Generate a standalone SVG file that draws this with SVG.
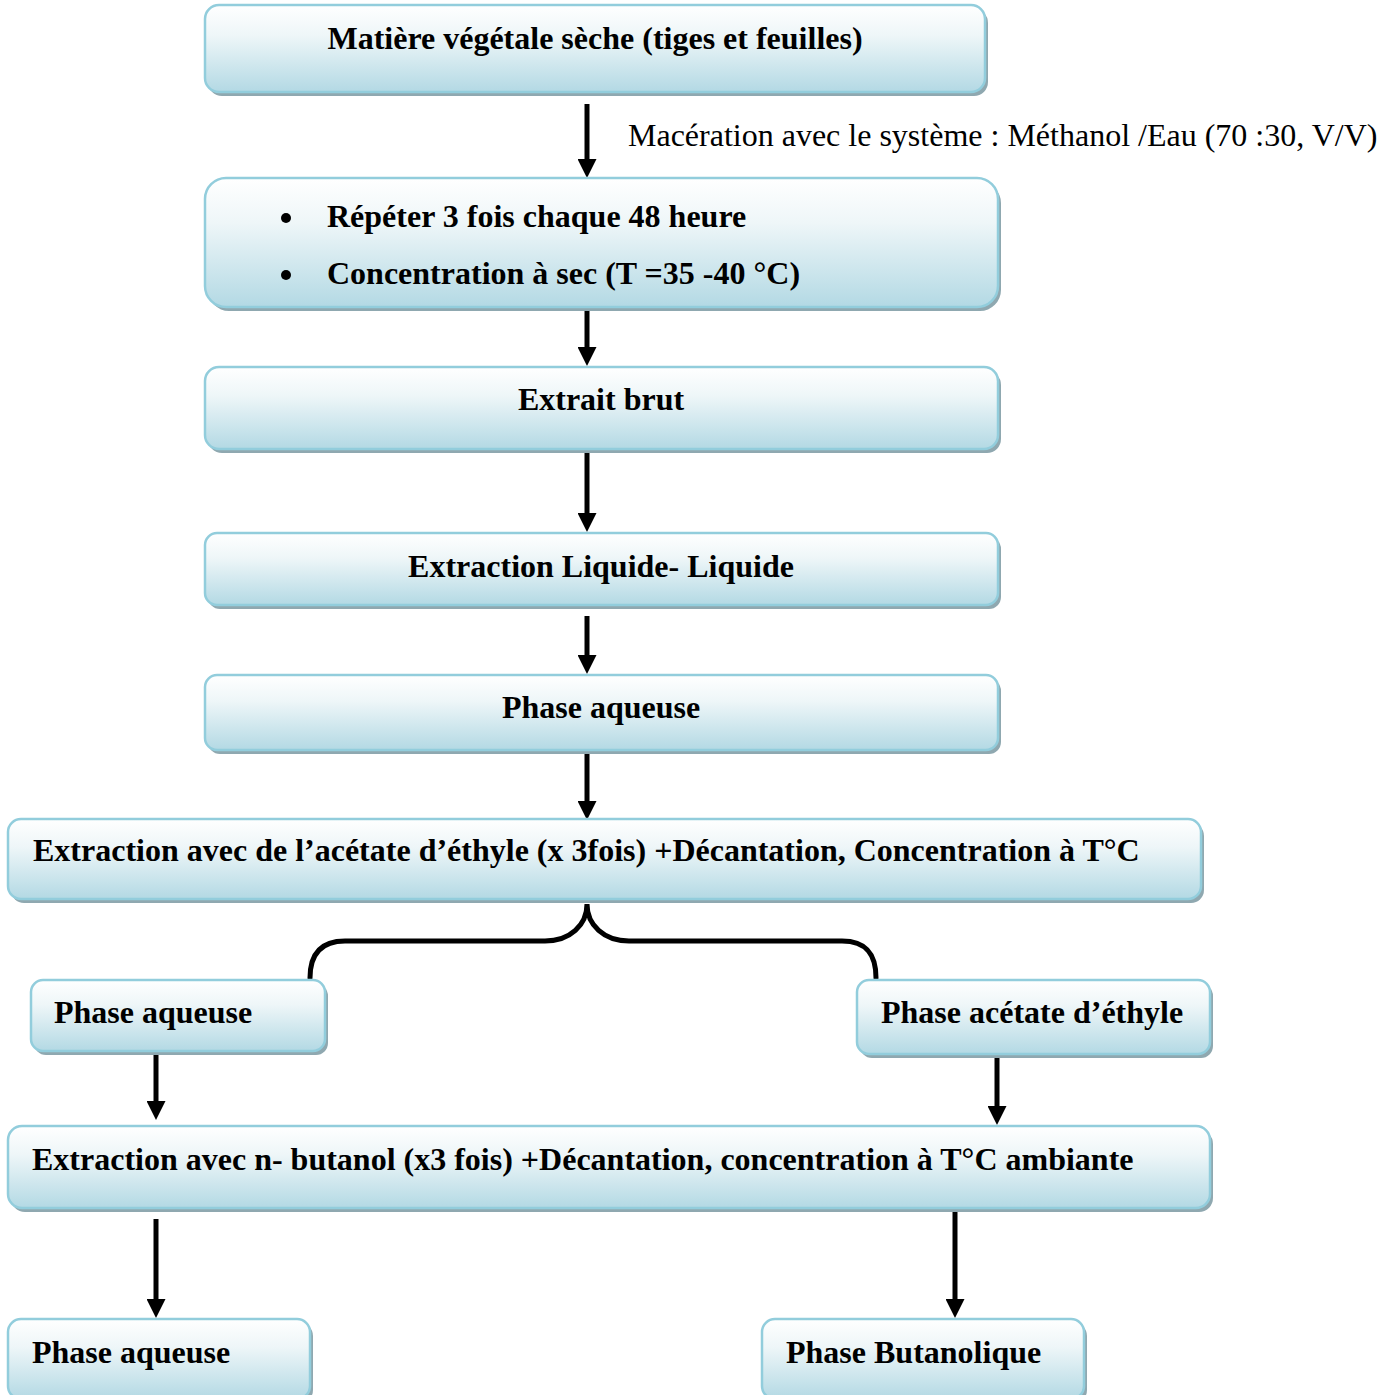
<svg xmlns="http://www.w3.org/2000/svg" width="1395" height="1395" viewBox="0 0 1395 1395">
<defs>
<linearGradient id="g" x1="0" y1="0" x2="0" y2="1">
<stop offset="0" stop-color="#ffffff"/>
<stop offset="0.35" stop-color="#eef6f8"/>
<stop offset="1" stop-color="#b3d9e4"/>
</linearGradient>
<marker id="ah" markerUnits="userSpaceOnUse" markerWidth="19" markerHeight="19" refX="8" refY="9.5" orient="auto" viewBox="0 0 19 19">
<path d="M0,0 L19,9.5 L0,19 z" fill="#000"/>
</marker>
<style>
.sh{fill:#8fa8b0}
.bx{fill:url(#g);stroke:#92cddc;stroke-width:2.5}
.t{font-family:"Liberation Serif","Times New Roman",serif;font-size:32px;font-weight:bold;fill:#000}
.c{text-anchor:middle}
.lb{font-family:"Liberation Serif","Times New Roman",serif;font-size:32px;fill:#000}
.ar{stroke:#000;stroke-width:5;fill:none;marker-end:url(#ah)}
.br{stroke:#000;stroke-width:5;fill:none;stroke-linecap:round}
</style>
</defs>
<rect width="1395" height="1395" fill="#fff"/>

<g id="connectors">
<line class="ar" x1="587" y1="104" x2="587" y2="167"/>
<line class="ar" x1="587" y1="309" x2="587" y2="355"/>
<line class="ar" x1="587" y1="451" x2="587" y2="521"/>
<line class="ar" x1="587" y1="616" x2="587" y2="663"/>
<line class="ar" x1="587" y1="752" x2="587" y2="809"/>
<line class="ar" x1="156" y1="1051" x2="156" y2="1109"/>
<line class="ar" x1="997" y1="1054" x2="997" y2="1114"/>
<line class="ar" x1="156" y1="1219" x2="156" y2="1307"/>
<line class="ar" x1="955" y1="1209" x2="955" y2="1307"/>
<path class="br" d="M310,978 C310,955 320,941 345,941 L545,941 C570,941 587,925 587,904 C587,925 604,941 629,941 L842,941 C867,941 876,955 876,978"/>
<text class="lb" x="628" y="146">Macération avec le système : Méthanol /Eau (70 :30, V/V)</text>
</g>

<g id="n1">
<rect class="sh" x="208" y="9" width="780" height="87" rx="14"/>
<rect class="bx" x="205" y="5" width="780" height="87" rx="14"/>
<text class="t c" x="595" y="49">Matière végétale sèche (tiges et feuilles)</text>
</g>

<g id="n2">
<rect class="sh" x="208" y="182" width="793" height="129" rx="21"/>
<rect class="bx" x="205" y="178" width="793" height="129" rx="21"/>
<circle cx="286" cy="218" r="5"/>
<circle cx="286" cy="275" r="5"/>
<text class="t" x="327" y="227">Répéter 3 fois chaque 48 heure</text>
<text class="t" x="327" y="284">Concentration à sec (T =35 -40 °C)</text>
</g>

<g id="n3">
<rect class="sh" x="208" y="371" width="793" height="82" rx="14"/>
<rect class="bx" x="205" y="367" width="793" height="82" rx="14"/>
<text class="t c" x="601" y="410">Extrait brut</text>
</g>

<g id="n4">
<rect class="sh" x="208" y="537" width="793" height="72" rx="12"/>
<rect class="bx" x="205" y="533" width="793" height="72" rx="12"/>
<text class="t c" x="601" y="577">Extraction Liquide- Liquide</text>
</g>

<g id="n5">
<rect class="sh" x="208" y="679" width="793" height="75" rx="12"/>
<rect class="bx" x="205" y="675" width="793" height="75" rx="12"/>
<text class="t c" x="601" y="718">Phase aqueuse</text>
</g>

<g id="n6">
<rect class="sh" x="11" y="823" width="1193" height="80" rx="13"/>
<rect class="bx" x="8" y="819" width="1193" height="80" rx="13"/>
<text class="t" x="33" y="861">Extraction avec de l’acétate d’éthyle (x 3fois) +Décantation, Concentration à T°C</text>
</g>

<g id="n7">
<rect class="sh" x="34" y="984" width="294" height="71" rx="12"/>
<rect class="bx" x="31" y="980" width="294" height="71" rx="12"/>
<text class="t" x="54" y="1023">Phase aqueuse</text>
</g>

<g id="n8">
<rect class="sh" x="860" y="984" width="353" height="74" rx="12"/>
<rect class="bx" x="857" y="980" width="353" height="74" rx="12"/>
<text class="t" x="881" y="1023">Phase acétate d’éthyle</text>
</g>

<g id="n9">
<rect class="sh" x="11" y="1130" width="1202" height="82" rx="14"/>
<rect class="bx" x="8" y="1126" width="1202" height="82" rx="14"/>
<text class="t" x="32" y="1170">Extraction avec n- butanol (x3 fois) +Décantation, concentration à T°C ambiante</text>
</g>

<g id="n10">
<rect class="sh" x="11" y="1323" width="302" height="80" rx="13"/>
<rect class="bx" x="8" y="1319" width="302" height="80" rx="13"/>
<text class="t" x="32" y="1363">Phase aqueuse</text>
</g>

<g id="n11">
<rect class="sh" x="765" y="1323" width="322" height="80" rx="13"/>
<rect class="bx" x="762" y="1319" width="322" height="80" rx="13"/>
<text class="t" x="786" y="1363">Phase Butanolique</text>
</g>
</svg>
